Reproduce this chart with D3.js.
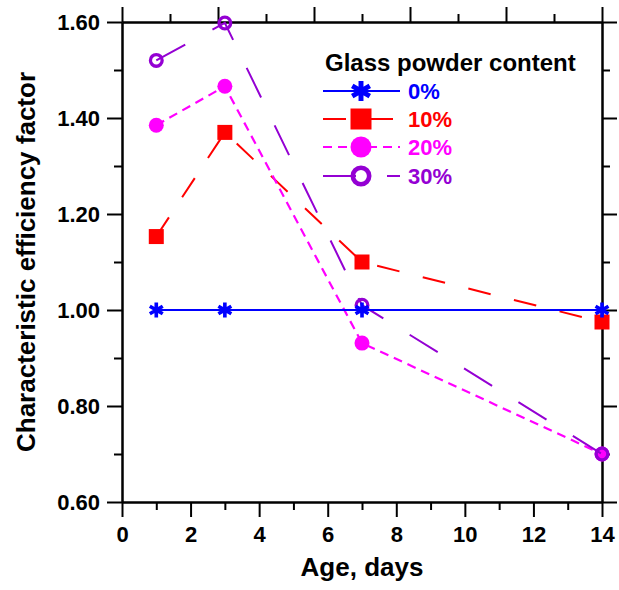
<!DOCTYPE html>
<html>
<head>
<meta charset="utf-8">
<script src="https://cdn.jsdelivr.net/npm/d3@7"></script>
<style>
  body { margin: 0; background: #fff; }
  svg text { font-family: "Liberation Sans", Arial, sans-serif; font-weight: bold; }
</style>
</head>
<body>
<script>
// data
var days = [1, 3, 7, 14];
var labels = ['0%', '10%', '20%', '30%'];
var eff0 = [1.00, 1.00, 1.00, 1.00];
var eff10 = [1.153, 1.37, 1.10, 0.975];
var eff20 = [1.385, 1.466, 0.931, 0.70];
var eff30 = [1.52, 1.598, 1.01, 0.70];
var xMajor = [0, 2, 4, 6, 8, 10, 12, 14];
var xMinor = [1, 3, 5, 7, 9, 11, 13];
var yMajor = [0.6, 0.8, 1.0, 1.2, 1.4, 1.6];
var yMinor = [0.7, 0.9, 1.1, 1.3, 1.5];

var w = 619, h = 590;
var pLeft = 122, pRight = 602, pTop = 22, pBottom = 502;

var svg = d3.select('body').append('svg')
  .attr('width', w)
  .attr('height', h);

var x = d3.scaleLinear().domain([0, 14]).range([pLeft, pRight]);
var y = d3.scaleLinear().domain([0.6, 1.6]).range([pBottom, pTop]);
// the top axis has its own 10 divisions
var xTop = d3.scaleLinear().domain([0, 10]).range([pLeft, pRight]);

function styleAxis(g) {
  g.selectAll('path, line').attr('stroke', '#000').attr('stroke-width', 2);
  g.selectAll('text').attr('fill', '#000').style('font-size', '22px');
}

svg.append('g').attr('transform', 'translate(0,' + pBottom + ')')
  .call(d3.axisBottom(x).tickValues(xMinor).tickSize(8).tickSizeOuter(0).tickFormat(''))
  .call(styleAxis);
svg.append('g').attr('transform', 'translate(0,' + pBottom + ')')
  .call(d3.axisBottom(x).tickValues(xMajor).tickSize(15).tickSizeOuter(0).tickPadding(9))
  .call(styleAxis);

svg.append('g').attr('transform', 'translate(' + pLeft + ',0)')
  .call(d3.axisLeft(y).tickValues(yMinor).tickSize(8).tickSizeOuter(0).tickFormat(''))
  .call(styleAxis);
svg.append('g').attr('transform', 'translate(' + pLeft + ',0)')
  .call(d3.axisLeft(y).tickValues(yMajor).tickSize(15).tickSizeOuter(0).tickPadding(7)
    .tickFormat(d3.format('.2f')))
  .call(styleAxis);

svg.append('g').attr('transform', 'translate(' + pRight + ',0)')
  .call(d3.axisRight(y).tickValues(yMinor).tickSize(8).tickSizeOuter(0).tickFormat(''))
  .call(styleAxis);
svg.append('g').attr('transform', 'translate(' + pRight + ',0)')
  .call(d3.axisRight(y).tickValues(yMajor).tickSize(15).tickSizeOuter(0).tickFormat(''))
  .call(styleAxis);

svg.append('g').attr('transform', 'translate(0,' + pTop + ')')
  .call(d3.axisTop(xTop).tickValues([1, 3, 5, 7, 9]).tickSize(8).tickSizeOuter(0).tickFormat(''))
  .call(styleAxis);
svg.append('g').attr('transform', 'translate(0,' + pTop + ')')
  .call(d3.axisTop(xTop).tickValues([0, 2, 4, 6, 8, 10]).tickSize(15).tickSizeOuter(0).tickFormat(''))
  .call(styleAxis);

// axis titles
svg.append('text')
  .attr('x', (pLeft + pRight) / 2)
  .attr('y', 576)
  .attr('text-anchor', 'middle')
  .style('font-size', '26px')
  .text('Age, days');

svg.append('text')
  .attr('transform', 'translate(35,' + (pTop + pBottom) / 2 + ') rotate(-90)')
  .attr('text-anchor', 'middle')
  .style('font-size', '26px')
  .text('Characteristic efficiency factor');

var series = [
  { name: labels[1], vals: eff10, color: '#FF0000', dash: '23,24', width: 2, marker: 'square' },
  { name: labels[2], vals: eff20, color: '#FF00FF', dash: '9,6', width: 2.2, marker: 'dot' },
  { name: labels[3], vals: eff30, color: '#9400D3', dash: '33,31', width: 2, marker: 'ring' },
  { name: labels[0], vals: eff0, color: '#0000FF', dash: null, width: 2, marker: 'star' }
];

var line = d3.line()
  .x(function(d) { return x(d[0]); })
  .y(function(d) { return y(d[1]); });

function drawMarker(g, type, color, s) {
  if (type === 'square') {
    g.append('rect')
      .attr('x', -s / 2).attr('y', -s / 2)
      .attr('width', s).attr('height', s)
      .attr('fill', color);
  } else if (type === 'dot') {
    g.append('circle').attr('r', s / 2).attr('fill', color);
  } else if (type === 'ring') {
    g.append('circle')
      .attr('r', s / 2 - s * 0.11)
      .attr('fill', 'none')
      .attr('stroke', color)
      .attr('stroke-width', s * 0.22);
  } else {
    g.append('path')
      .attr('d', d3.symbol(d3.symbolAsterisk, s * s * 0.8)())
      .attr('fill', 'none')
      .attr('stroke', color)
      .attr('stroke-width', s * 0.26);
  }
}

series.forEach(function(s) {
  var pts = days.map(function(d, i) { return [d, s.vals[i]]; });
  svg.append('path')
    .attr('d', line(pts))
    .attr('fill', 'none')
    .attr('stroke', s.color)
    .attr('stroke-width', s.width)
    .attr('stroke-dasharray', s.dash);
  pts.forEach(function(p) {
    var g = svg.append('g').attr('transform', 'translate(' + x(p[0]) + ',' + y(p[1]) + ')');
    drawMarker(g, s.marker, s.color, s.marker === 'star' ? 14 : 15);
  });
});

// legend
svg.append('text')
  .attr('x', 325)
  .attr('y', 71)
  .style('font-size', '24px')
  .text('Glass powder content');

var legendOrder = [series[3], series[0], series[1], series[2]];
var legendY = [91, 119, 147, 176];

legendOrder.forEach(function(s, i) {
  var ly = legendY[i];
  svg.append('line')
    .attr('x1', 323).attr('x2', 400)
    .attr('y1', ly).attr('y2', ly)
    .attr('stroke', s.color)
    .attr('stroke-width', s.width)
    .attr('stroke-dasharray', s.dash);
  var g = svg.append('g').attr('transform', 'translate(361,' + ly + ')');
  drawMarker(g, s.marker, s.color, s.marker === 'star' ? 19 : 21);
  svg.append('text')
    .attr('x', 408)
    .attr('y', ly)
    .attr('dy', '0.36em')
    .attr('fill', s.color)
    .style('font-size', '22px')
    .text(s.name);
});
</script>
</body>
</html>
